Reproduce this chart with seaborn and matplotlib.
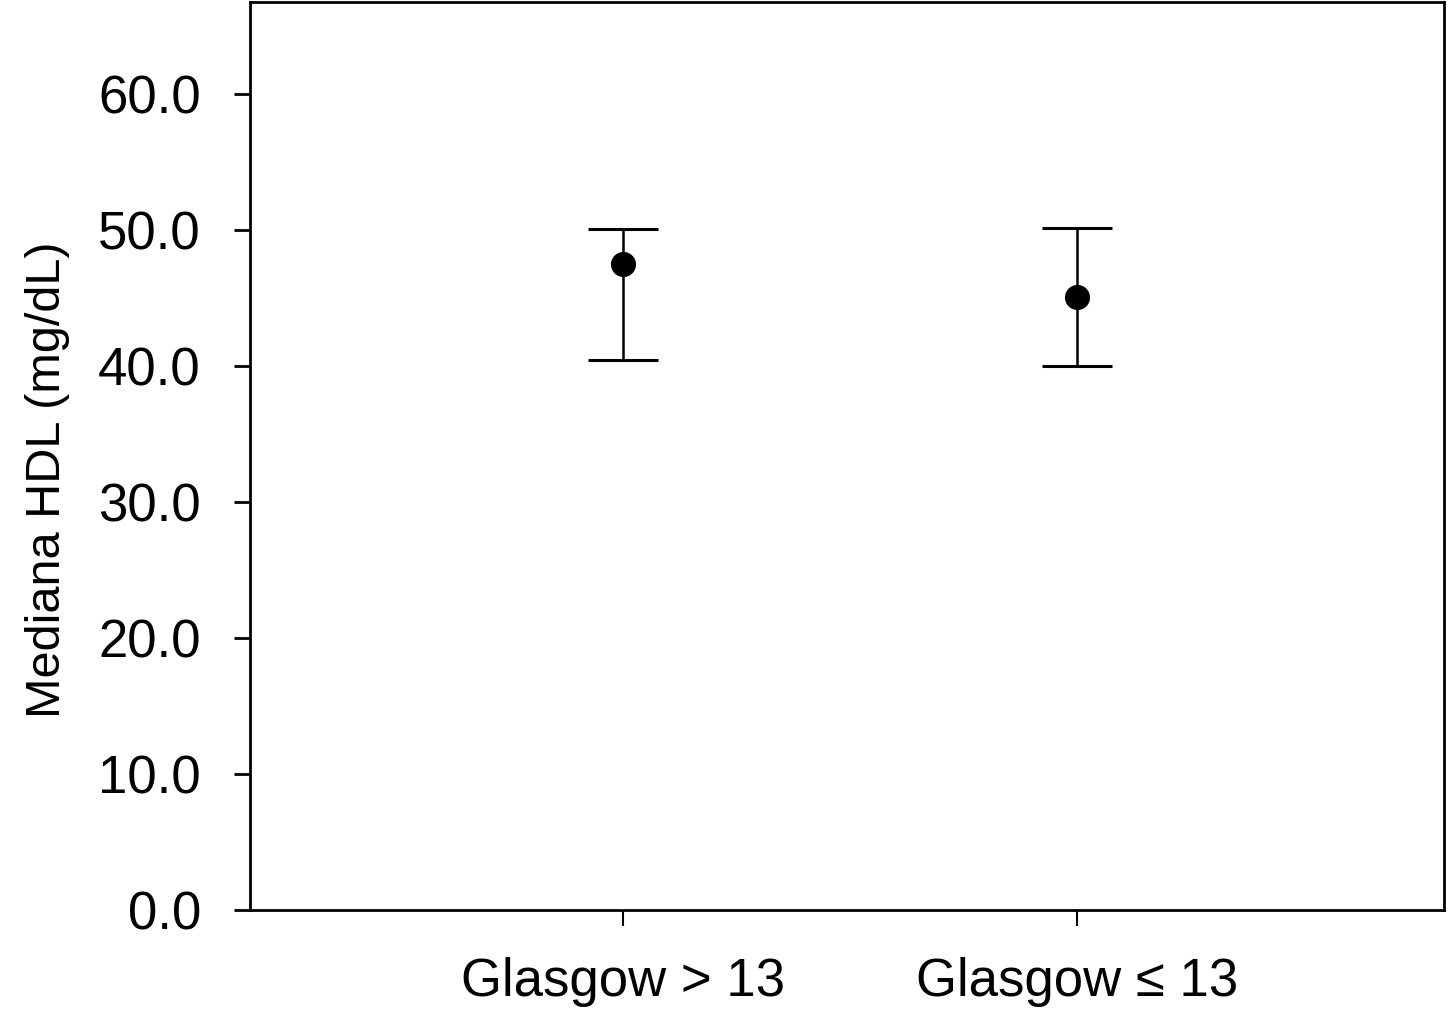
import numpy as np
import pandas as pd
import matplotlib
matplotlib.use("Agg")
import matplotlib.pyplot as plt
import seaborn as sns

groups = ["Glasgow > 13", "Glasgow \u2264 13"]
medians = [47.5, 45.1]
upper = [50.1, 50.2]
lower = [40.5, 40.0]

sns.set_style("white")
plt.rcParams['font.family'] = ['Liberation Sans', 'DejaVu Sans']
plt.rcParams['text.color'] = 'black'
plt.rcParams['axes.labelcolor'] = 'black'
plt.rcParams['xtick.color'] = 'black'
plt.rcParams['ytick.color'] = 'black'

df = pd.DataFrame({"group": groups, "median": medians, "upper": upper, "lower": lower})
df["x"] = np.arange(len(df))

fig = plt.figure(figsize=(14.48, 10.24), dpi=100)
ax = fig.add_axes([0.1727, 0.1113, 0.8245, 0.8867])

yerr = [df["median"] - df["lower"], df["upper"] - df["median"]]
ax.errorbar(df["x"], df["median"], yerr=yerr, fmt="none", ecolor="black",
            elinewidth=1.8, capsize=25, capthick=2.2, zorder=2)
sns.scatterplot(data=df, x="x", y="median", color="black", s=280,
                edgecolor="black", ax=ax, zorder=3, legend=False)

ax.set_xlim(-0.823, 1.81)
ax.set_ylim(0, 66.8)
ax.set_yticks(np.arange(0, 61, 10))
ax.set_yticklabels([f"{v:.1f}" for v in np.arange(0, 61, 10)])
ax.set_xticks(df["x"])
ax.set_xticklabels(groups)
ax.set_xlabel("")
ax.set_ylabel("Mediana HDL (mg/dL)", fontsize=35)
ax.yaxis.set_label_coords(-0.151, 0.474)

for s in ax.spines.values():
    s.set_visible(True)
    s.set_color("black")
    s.set_linewidth(2)
ax.tick_params(axis="y", direction="out", length=11.5, width=2, labelsize=38, pad=24,
               left=True, colors="black")
ax.tick_params(axis="x", direction="out", length=11.5, width=1.5, labelsize=38, pad=22,
               bottom=True, colors="black")

fig.savefig("out.png", dpi=100)
